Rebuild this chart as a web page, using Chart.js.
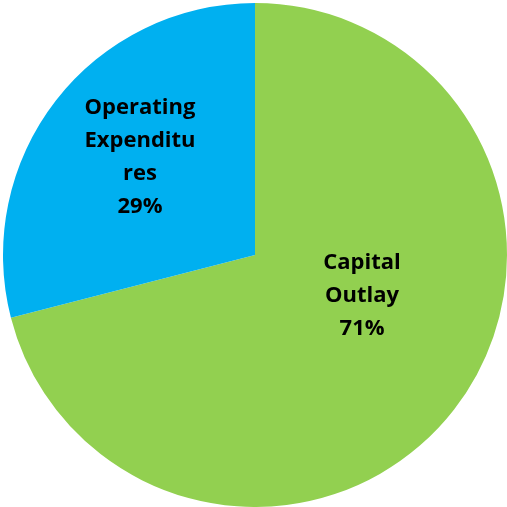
<!DOCTYPE html>
<html>
<head>
<meta charset="utf-8">
<script src="https://cdn.jsdelivr.net/npm/chart.js@4"></script>
<style>
  html, body { margin: 0; padding: 0; background: #fff; }
  #wrap { width: 507px; height: 507px; }
</style>
</head>
<body>
<div id="wrap"><canvas id="pie"></canvas></div>
<script>
const categories = ["Capital Outlay", "Operating Expenditures"];
const shares = [71, 29];
const sliceColors = ["#92D050", "#00B0F0"];
// label text lines, as wrapped in the chart
const labelLines = [
  ["Capital", "Outlay", "71%"],
  ["Operating", "Expenditu", "res", "29%"]
];

// where each label sits: angle (deg, canvas) and fraction of radius
const labelSpots = [
  { angle: 21, frac: 0.455 },
  { angle: 220.5, frac: 0.60 }
];

const sliceLabels = {
  id: "sliceLabels",
  afterDatasetsDraw(chart) {
    const ctx = chart.ctx;
    const arcs = chart.getDatasetMeta(0).data;
    ctx.save();
    ctx.font = "bold 22px 'Open Sans'";
    ctx.fillStyle = "#000";
    ctx.textAlign = "center";
    ctx.textBaseline = "middle";
    const lineH = 33;
    arcs.forEach((arc, i) => {
      const spot = labelSpots[i];
      const a = spot.angle * Math.PI / 180;
      const cx = arc.x + Math.cos(a) * arc.outerRadius * spot.frac;
      const cy = arc.y + Math.sin(a) * arc.outerRadius * spot.frac;
      const lines = labelLines[i];
      const top = cy - (lines.length - 1) * lineH / 2;
      lines.forEach((t, j) => ctx.fillText(t, cx, top + j * lineH));
    });
    ctx.restore();
  }
};

new Chart(document.getElementById("pie"), {
  type: "pie",
  data: {
    labels: categories,
    datasets: [{
      data: shares,
      backgroundColor: sliceColors,
      borderWidth: 0
    }]
  },
  options: {
    responsive: true,
    maintainAspectRatio: false,
    animation: false,
    layout: { padding: { left: 3, top: 3, right: 0, bottom: 0 } },
    plugins: {
      legend: { display: false },
      tooltip: { enabled: false }
    }
  },
  plugins: [sliceLabels]
});
</script>
</body>
</html>
